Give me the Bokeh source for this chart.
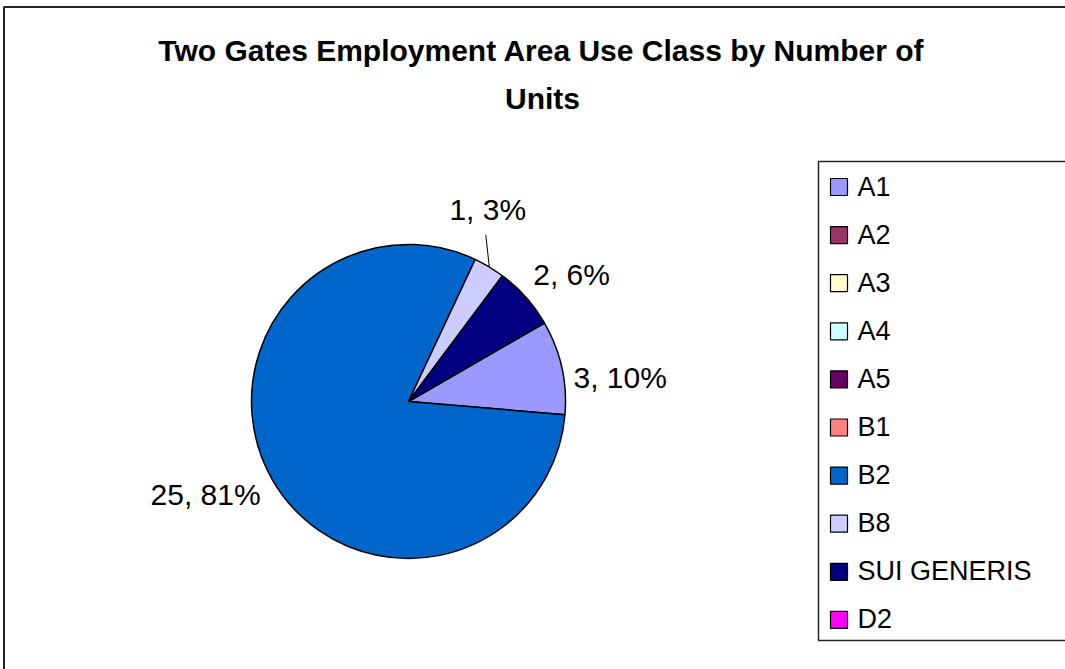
import math
from bokeh.plotting import figure
from bokeh.models import Range1d, ColumnDataSource
from bokeh.core.properties import value
from bokeh.embed import file_html
from bokeh.resources import INLINE

# ---------------- data ----------------
title_lines = ["Two Gates Employment Area Use Class by Number of", "Units"]
categories = ["A1", "A2", "A3", "A4", "A5", "B1", "B2", "B8", "SUI GENERIS", "D2"]
units = [3, 0, 0, 0, 0, 0, 25, 1, 2, 0]
colors = ["#9999FF", "#993366", "#FFFFCC", "#CCFFFF", "#660066",
          "#FF8080", "#0066CC", "#CCCCFF", "#000080", "#FF00FF"]

# ---------------- layout ----------------
W, H = 1065, 669
CX, CY, R = 408, 401, 157          # pie centre / radius (image px, y down)
START_DEG = 30.0                   # first slice starts here, clockwise
FONT = value("Liberation Sans")


def Y(y):
    return H - y


p = figure(width=W, height=H, output_backend="svg", toolbar_location=None,
           x_range=Range1d(0, W), y_range=Range1d(0, H), min_border=0)
p.axis.visible = False
p.grid.visible = False
p.outline_line_color = None
p.background_fill_color = "white"
p.border_fill_color = "white"

# chart border
p.quad(left=[3.5], right=[W + 10], top=[Y(6.5)], bottom=[-10],
       fill_color=None, line_color="#262626", line_width=2)

# title
p.text(x=[541, 542], y=[Y(49.5), Y(97.5)], text=title_lines,
       text_font=FONT, text_font_style="bold", text_font_size="30px",
       text_align="center", text_baseline="middle", text_color="black")

# ---------------- pie ----------------
total = sum(units)
starts, ends, mids, wc, wv = [], [], [], [], []
acc = 0
for cat, v, c in zip(categories, units, colors):
    if v > 0:
        a0 = START_DEG - acc / total * 360
        a1 = a0 - v / total * 360
        starts.append(math.radians(a0))
        ends.append(math.radians(a1))
        mids.append((a0 + a1) / 2)
        wc.append(c)
        wv.append((cat, v))
    acc += v

n = len(starts)
p.wedge(x=[CX] * n, y=[Y(CY)] * n, radius=R, radius_units="screen",
        start_angle=starts, end_angle=ends, direction="clock",
        fill_color=wc, line_color="black", line_width=1.5)

# data labels: "value, pct%"
label_nudge = {  # (dx, dy in image px, align) relative to point just outside the arc
    "A1": (0, 12.8, "left"),
    "SUI GENERIS": (-1.6, -15.1, "left"),
    "B2": (-1.5, 8.0, "right"),
}
lx, ly, lt, la = [], [], [], []
for (cat, v), m in zip(wv, mids):
    pct = round(v / total * 100)
    txt = f"{v}, {pct}%"
    ax = CX + (R + 12) * math.cos(math.radians(m))
    ay = CY - (R + 12) * math.sin(math.radians(m))
    if cat in label_nudge:
        dx, dy, al = label_nudge[cat]
        lx.append(ax + dx); ly.append(Y(ay + dy)); lt.append(txt); la.append(al)
    else:
        # leader line from arc to label
        ex = CX + R * math.cos(math.radians(m))
        ey = CY - R * math.sin(math.radians(m))
        tx, ty = ex - 3.5, ey - 32
        p.line(x=[ex, tx], y=[Y(ey), Y(ty)], line_color="black", line_width=1)
        lx.append(tx + 2); ly.append(Y(ty - 25.5)); lt.append(txt); la.append("center")

src = ColumnDataSource(dict(x=lx, y=ly, text=lt, align=la))
p.text(x="x", y="y", text="text", text_align="align", source=src,
       text_font=FONT, text_font_size="30px", text_baseline="middle",
       text_color="black")

# ---------------- legend ----------------
LEG_L, LEG_T, LEG_B = 818, 161, 640
p.quad(left=[LEG_L], right=[W + 10], top=[Y(LEG_T)], bottom=[Y(LEG_B)],
       fill_color="white", line_color="#262626", line_width=1.5)
ITEM0, STEP = 186.5, 48.1
ky = [Y(ITEM0 + i * STEP) for i in range(len(categories))]
p.rect(x=[838.5] * len(categories), y=ky, width=17, height=17,
       width_units="screen", height_units="screen",
       fill_color=colors, line_color="black", line_width=1.2)
p.text(x=[857] * len(categories), y=[k + 0.5 for k in ky], text=categories,
       text_font=FONT, text_font_size="27px", text_baseline="middle",
       text_align="left", text_color="black")

open("out.html", "w").write(file_html(p, INLINE))
